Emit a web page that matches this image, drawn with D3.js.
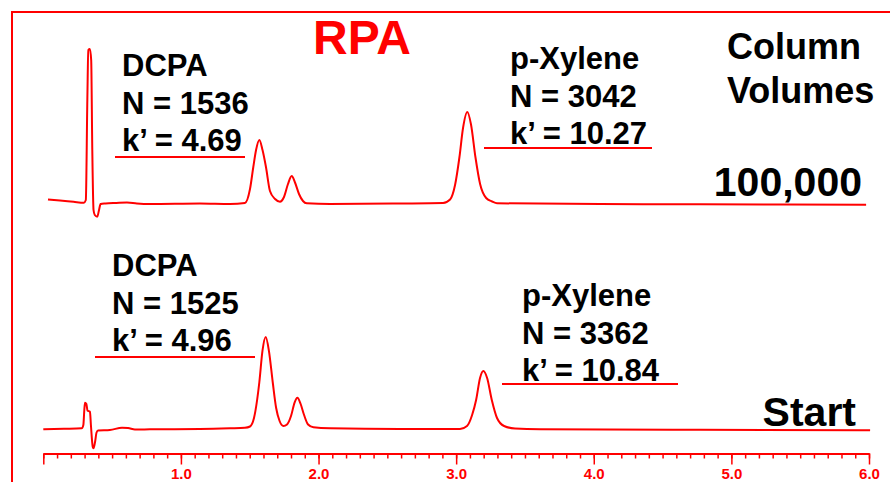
<!DOCTYPE html>
<html>
<head>
<meta charset="utf-8">
<script src="https://cdn.jsdelivr.net/npm/d3@7"></script>
<style>
  body { margin: 0; background: #fff; }
  svg { display: block; font-family: "Liberation Sans", Arial, sans-serif; }
</style>
</head>
<body>
<svg id="chart"></svg>
<script>
const width = 890;
const height = 482;

// retention time (min) vs detector signal
const topTrace = [
  [0.034, 3.5], [0.121, 2.5], [0.22, 1.2], [0.295, 0.3], [0.309, 3], [0.320, 103],
  [0.327, 153], [0.338, 154], [0.348, 143], [0.356, 53], [0.365, -7], [0.374, -12],
  [0.392, -13.7], [0.405, -7], [0.416, -1], [0.452, -0.5], [0.53, 0], [0.608, 0.4],
  [0.68, -0.5], [0.775, -1], [1.138, -0.5], [1.357, -1], [1.465, 0], [1.502, 14],
  [1.526, 36], [1.546, 53], [1.570, 63], [1.593, 53], [1.618, 36], [1.647, 12],
  [1.684, 4], [1.720, 1.3], [1.749, 6], [1.778, 19], [1.805, 27], [1.829, 20.5],
  [1.858, 9], [1.887, 2], [1.914, -0.3], [2.084, -1], [2.593, -0.5], [2.905, 0],
  [2.956, 3.5], [2.992, 18], [3.024, 46], [3.050, 75], [3.081, 91], [3.108, 78.5],
  [3.140, 46], [3.174, 19], [3.218, 5], [3.261, 1.5], [3.297, -0.3], [4.046, -1],
  [4.772, -1.3], [5.979, -1.7]
];

const bottomTrace = [
  [0.0, -0.3], [0.15, 0.2], [0.279, 0.7], [0.291, 4], [0.298, 19], [0.303, 26.3],
  [0.313, 25], [0.321, 18.5], [0.339, 17.3], [0.346, 4], [0.359, -17.7], [0.365, -19.3],
  [0.376, -13], [0.387, -3.5], [0.398, -1.5], [0.484, -1], [0.572, 1.3], [0.616, 1],
  [0.666, -0.5], [0.775, -0.3], [1.138, 0], [1.357, 0.7], [1.465, 1.2], [1.502, 2.5],
  [1.531, 11], [1.570, 47], [1.593, 78.6], [1.616, 92], [1.640, 77.7], [1.667, 47],
  [1.692, 21], [1.717, 8], [1.745, 3], [1.771, 4.5], [1.800, 13], [1.826, 26.4],
  [1.846, 31.3], [1.870, 25], [1.895, 14], [1.924, 4.5], [1.963, 1.7], [2.084, 0.7],
  [2.592, 0], [3.028, 0], [3.079, 3], [3.116, 14], [3.145, 29], [3.174, 51.3],
  [3.198, 58], [3.225, 51], [3.259, 29], [3.297, 11], [3.348, 3], [3.428, 0.5],
  [3.610, -0.3], [4.773, -0.8], [6.008, -1.3]
];

const majorTicks = [0, 1, 2, 3, 4, 5, 6];
const minorTicks = d3.range(0, 61).map((i) => i / 10);

const topLabels = {
  dcpa: ["DCPA", "N = 1536", "k\u2019 = 4.69"],
  xylene: ["p-Xylene", "N = 3042", "k\u2019 = 10.27"]
};
const bottomLabels = {
  dcpa: ["DCPA", "N = 1525", "k\u2019 = 4.96"],
  xylene: ["p-Xylene", "N = 3362", "k\u2019 = 10.84"]
};
const columnLabel = ["Column", "Volumes"];
const topTag = "100,000";
const bottomTag = "Start";
const title = "RPA";

const red = "#ff0000";

const svg = d3.select("#chart").attr("width", width).attr("height", height);

// frame
svg.append("rect")
  .attr("x", 12).attr("y", 12)
  .attr("width", 900).attr("height", 500)
  .attr("fill", "none").attr("stroke", red).attr("stroke-width", 2);

const x = d3.scaleLinear().domain([0, 6]).range([43.3, 869]);

const yTop = d3.scaleLinear().domain([0, 100]).range([203, 103]);
const yBottom = d3.scaleLinear().domain([0, 100]).range([429, 329]);

function drawTrace(data, y) {
  const line = d3.line()
    .x((d) => x(d[0]))
    .y((d) => y(d[1]))
    .curve(d3.curveMonotoneX);
  svg.append("path")
    .datum(data)
    .attr("d", line)
    .attr("fill", "none")
    .attr("stroke", red)
    .attr("stroke-width", 2)
    .attr("stroke-linejoin", "round");
}

drawTrace(topTrace, yTop);
drawTrace(bottomTrace, yBottom);

// axis
const axisY = 453.5;
const minorAxis = d3.axisBottom(x).tickValues(minorTicks).tickSize(5).tickSizeOuter(0).tickFormat("");
const majorAxis = d3.axisBottom(x).tickValues(majorTicks).tickSize(11).tickSizeOuter(0)
  .tickFormat((d) => (d === 0 ? "" : d3.format(".1f")(d)));

const gMinor = svg.append("g").attr("transform", `translate(0,${axisY})`).call(minorAxis);
const gMajor = svg.append("g").attr("transform", `translate(0,${axisY})`).call(majorAxis);

[gMinor, gMajor].forEach((g) => {
  g.select(".domain").attr("stroke", red).attr("stroke-width", 2);
  g.selectAll(".tick line").attr("stroke", red).attr("stroke-width", 1.5);
});
gMinor.select(".domain").remove();
gMajor.attr("font-family", null).attr("font-size", 15).attr("font-weight", "bold");
gMajor.selectAll(".tick text")
  .attr("fill", red)
  .attr("font-size", 15)
  .attr("dy", "0")
  .attr("y", 25.5);

// text blocks
function textBlock(lines, x0, y0, step, size) {
  lines.forEach((t, i) => {
    svg.append("text")
      .attr("x", x0).attr("y", y0 + i * step)
      .attr("font-size", size)
      .attr("font-weight", "bold")
      .attr("fill", "#000")
      .text(t);
  });
}

function underline(x1, x2, yy) {
  svg.append("line")
    .attr("x1", x1).attr("x2", x2).attr("y1", yy).attr("y2", yy)
    .attr("stroke", red).attr("stroke-width", 2);
}

textBlock(topLabels.dcpa, 122, 76, 37.5, 31);
underline(115, 245, 157);
textBlock(topLabels.xylene, 510, 69, 37.5, 31);
underline(484, 652, 148);

textBlock(bottomLabels.dcpa, 112, 276, 37.5, 31);
underline(95, 255, 357);
textBlock(bottomLabels.xylene, 522, 306, 37.5, 31);
underline(502, 678, 384);

textBlock(columnLabel, 727, 59, 44, 36);

svg.append("text")
  .attr("x", 862).attr("y", 196)
  .attr("text-anchor", "end")
  .attr("font-size", 41).attr("font-weight", "bold")
  .text(topTag);

svg.append("text")
  .attr("x", 856).attr("y", 426)
  .attr("text-anchor", "end")
  .attr("font-size", 41).attr("font-weight", "bold")
  .text(bottomTag);

svg.append("text")
  .attr("x", 362).attr("y", 54)
  .attr("text-anchor", "middle")
  .attr("font-size", 48).attr("font-weight", "bold")
  .attr("fill", red)
  .text(title);
</script>
</body>
</html>
